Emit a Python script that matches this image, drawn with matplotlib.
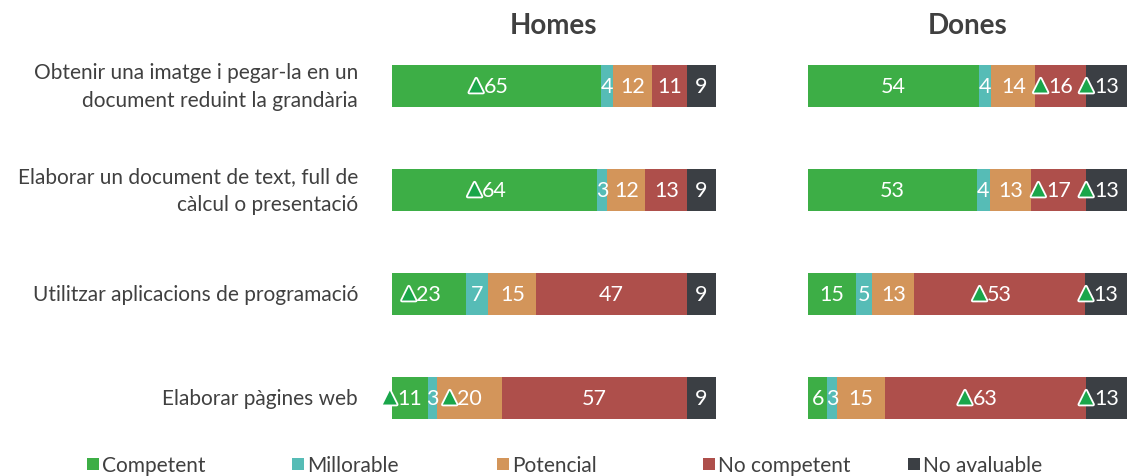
import matplotlib
matplotlib.use("Agg")
import matplotlib.pyplot as plt
import matplotlib.patheffects as pe
from matplotlib.patches import Rectangle

# ---- data ----
items = [
    "Obtenir una imatge i pegar-la en un\ndocument reduint la grandària",
    "Elaborar un document de text, full de\ncàlcul o presentació",
    "Utilitzar aplicacions de programació",
    "Elaborar pàgines web",
]
categories = ["Competent", "Millorable", "Potencial", "No competent", "No avaluable"]
colors = ["#3dae46", "#56bcb6", "#d3955a", "#ae4f4b", "#3b3f44"]

homes = [
    [65, 4, 12, 11, 9],
    [64, 3, 12, 13, 9],
    [23, 7, 15, 47, 9],
    [11, 3, 20, 57, 9],
]
homes_up = [
    [True, False, False, False, False],
    [True, False, False, False, False],
    [True, False, False, False, False],
    [True, False, True, False, False],
]
dones = [
    [54, 4, 14, 16, 13],
    [53, 4, 13, 17, 13],
    [15, 5, 13, 53, 13],
    [6, 3, 15, 63, 13],
]
dones_up = [
    [False, False, False, True, True],
    [False, False, False, True, True],
    [False, False, False, True, True],
    [False, False, False, True, True],
]
panel_titles = ["Homes", "Dones"]

FONT = ["Lato", "DejaVu Sans"]
TXT = "#404040"
W, H = 1127, 477
fig = plt.figure(figsize=(W / 100, H / 100), dpi=100)


def px_axes(x0, x1, y0, y1):
    return fig.add_axes([x0 / W, 1 - y1 / H, (x1 - x0) / W, (y1 - y0) / H])


axes = [px_axes(392, 716, 35, 451), px_axes(808, 1127, 35, 451)]
data_sets = [(homes, homes_up), (dones, dones_up)]

for ax, (vals, ups), title in zip(axes, data_sets, panel_titles):
    ax.set_xlim(0, 100)
    ax.set_ylim(3.5, -0.5)
    ax.axis("off")
    for r, (row, uprow) in enumerate(zip(vals, ups)):
        total = sum(row)
        left = 0
        for c, (v, up) in enumerate(zip(row, uprow)):
            w = v * 100 / total
            ax.barh(r, w, left=left, height=0.40, color=colors[c], edgecolor="none")
            cx = left + w / 2
            t = ax.text(cx, r, str(v), ha="center", va="center", color="white",
                        fontsize=15.5, family=FONT, zorder=5)
            if up:
                ax.annotate("▲", xy=(0, 0.5), xycoords=t, xytext=(-0.5, 0.5),
                            textcoords="offset points", ha="right", va="center",
                            color="#1aa64a", fontsize=13, family="DejaVu Sans", zorder=6,
                            path_effects=[pe.withStroke(linewidth=2.6, foreground="white")])
            left += w
    ax.text(0.5, 1 + (35 - 26) / 416.0, title, transform=ax.transAxes,
            ha="center", va="center", fontsize=20, fontweight="bold", color=TXT, family=FONT)

for r, lab in enumerate(items):
    y = 87 + 104 * r
    fig.text(358 / W, 1 - y / H, lab, ha="right", va="center", fontsize=15,
             color=TXT, family=FONT, linespacing=1.5)

# legend
leg_x = [87, 292, 497, 703, 908]
for x, cat, col in zip(leg_x, categories, colors):
    fig.patches.append(Rectangle((x / W, 1 - 471 / H), 12 / W, 12 / H, transform=fig.transFigure,
                                 facecolor=col, edgecolor="none"))
    fig.text((x + 15) / W, 1 - 466 / H, cat, ha="left", va="center", fontsize=15,
             color=TXT, family=FONT)

fig.savefig("out.png", dpi=100)
